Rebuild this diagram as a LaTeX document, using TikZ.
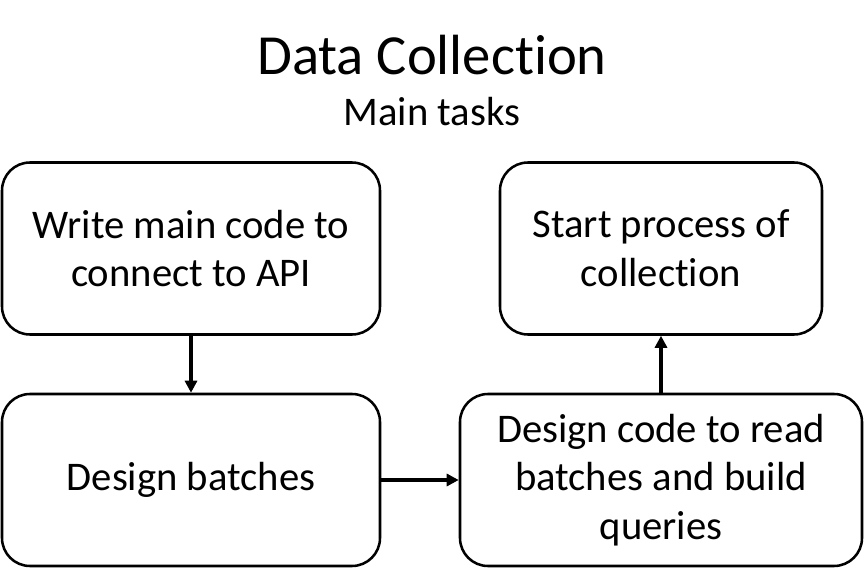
\documentclass[tikz,border=0pt]{standalone}
\usepackage{fontspec}
\setmainfont{Carlito}[Ligatures={NoCommon}]
\usetikzlibrary{arrows.meta}

\begin{document}
\begin{tikzpicture}[x=0.75pt, y=-0.75pt,
    task/.style={rectangle, draw, line width=1.9pt, rounded corners=21pt, align=center,
        font=\fontsize{30.5}{36.5}\selectfont, minimum height=129pt, inner sep=0pt},
    flow/.style={line width=2.4pt, -{Triangle[length=9pt, width=9pt]}}]
    \useasboundingbox (0,0) rectangle (864,581);
    \node (title) at (432,55) {\fontsize{42.5}{50}\selectfont Data Collection};
    \node (sub) at (432,112) {\fontsize{30.5}{36}\selectfont Main tasks};
    \node[task, minimum width=283.5pt] (write) at (191,248.5) {Write main code to\\connect to API};
    \node[task, minimum width=241.5pt] (start) at (661,248.5) {Start process of\\collection};
    \node[task, minimum width=283.5pt] (batches) at (191,480) {Design batches};
    \node[task, minimum width=301.5pt] (read) at (661,480) {Design code to read\\batches and build\\queries};
    \draw[flow] (write) -- (batches);
    \draw[flow] (batches) -- (read);
    \draw[flow] (read) -- (start);
\end{tikzpicture}
\end{document}
